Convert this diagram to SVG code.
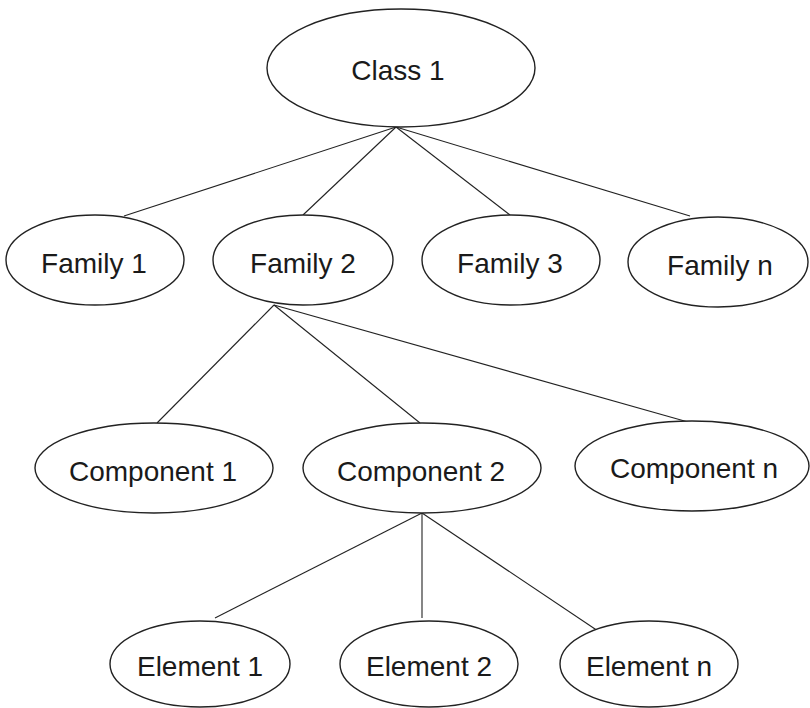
<svg xmlns="http://www.w3.org/2000/svg" width="810" height="708" viewBox="0 0 810 708">
<style>
.n ellipse{fill:#fff;stroke:#222;stroke-width:1.4}
.n text{font-family:"Liberation Sans",Arial,sans-serif;font-size:28px;fill:#1a1a1a;text-anchor:middle}
#edges line{stroke:#222;stroke-width:1.1}
</style>
<rect width="810" height="708" fill="#fff"/>
<g id="edges">
<line x1="396" y1="127" x2="124" y2="216"/>
<line x1="396" y1="127" x2="303" y2="215"/>
<line x1="396" y1="127" x2="510" y2="215"/>
<line x1="396" y1="127" x2="690" y2="216"/>
<line x1="274" y1="305" x2="157" y2="423"/>
<line x1="274" y1="305" x2="420" y2="423"/>
<line x1="274" y1="305" x2="688" y2="422"/>
<line x1="422" y1="513" x2="215" y2="618"/>
<line x1="422" y1="513" x2="422" y2="618"/>
<line x1="422" y1="513" x2="598" y2="631"/>
</g>
<g id="class1" class="n"><ellipse cx="401" cy="68" rx="134" ry="59"/><text x="398" y="80">Class 1</text></g>
<g id="family1" class="n"><ellipse cx="95" cy="260" rx="89" ry="45"/><text x="94" y="273">Family 1</text></g>
<g id="family2" class="n"><ellipse cx="303" cy="260" rx="90" ry="45"/><text x="303" y="273">Family 2</text></g>
<g id="family3" class="n"><ellipse cx="511" cy="260" rx="89" ry="45"/><text x="510" y="273">Family 3</text></g>
<g id="familyn" class="n"><ellipse cx="718" cy="262" rx="90" ry="45"/><text x="720" y="275">Family n</text></g>
<g id="component1" class="n"><ellipse cx="154" cy="468" rx="119" ry="45"/><text x="153" y="481">Component 1</text></g>
<g id="component2" class="n"><ellipse cx="422" cy="468" rx="119" ry="45"/><text x="421" y="481">Component 2</text></g>
<g id="componentn" class="n"><ellipse cx="692" cy="466" rx="117" ry="45"/><text x="694" y="478">Component n</text></g>
<g id="element1" class="n"><ellipse cx="200" cy="664" rx="90" ry="43"/><text x="200" y="676">Element 1</text></g>
<g id="element2" class="n"><ellipse cx="429" cy="664" rx="89" ry="43"/><text x="429" y="676">Element 2</text></g>
<g id="elementn" class="n"><ellipse cx="649" cy="664" rx="89" ry="43"/><text x="649" y="676">Element n</text></g>
</svg>
